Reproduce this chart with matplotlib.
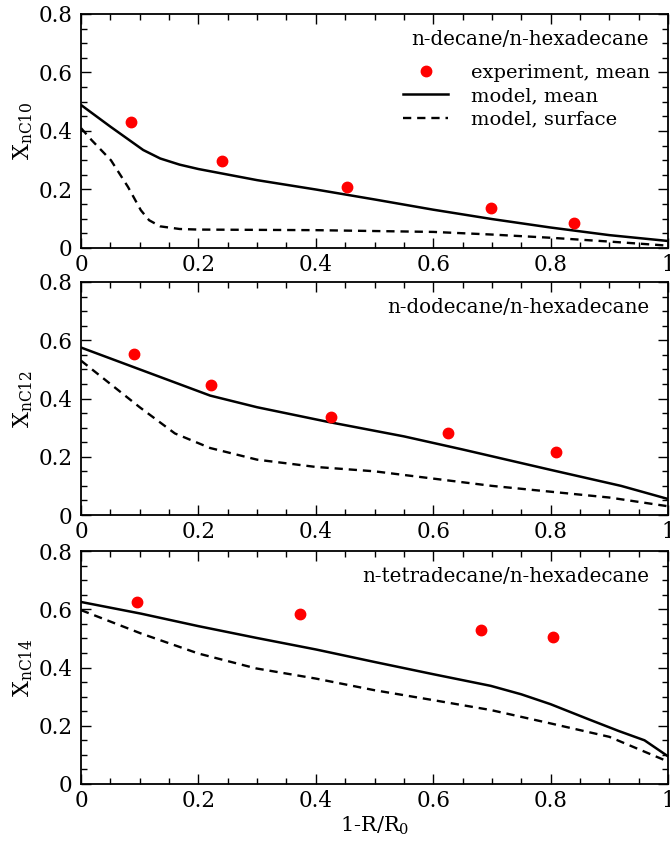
import matplotlib
matplotlib.use('Agg')
import matplotlib.pyplot as plt
from matplotlib.ticker import MultipleLocator, FixedFormatter, FixedLocator
import numpy as np

plt.rcParams['font.family'] = 'DejaVu Serif'
plt.rcParams['mathtext.fontset'] = 'dejavuserif'

# n-decane / n-hexadecane
c10_exp_x = [0.085, 0.240, 0.453, 0.698, 0.840]
c10_exp_y = [0.431, 0.297, 0.209, 0.137, 0.085]
c10_mean_x = [0.0, 0.05, 0.106, 0.135, 0.168, 0.2, 0.3, 0.4, 0.5, 0.6, 0.7, 0.8, 0.9, 1.0]
c10_mean_y = [0.489, 0.415, 0.335, 0.306, 0.285, 0.270, 0.232, 0.200, 0.166, 0.131, 0.099, 0.070, 0.044, 0.024]
c10_surf_x = [0.0, 0.018, 0.051, 0.08, 0.102, 0.116, 0.135, 0.168, 0.2, 0.4, 0.6, 0.7, 0.8, 0.9, 1.0]
c10_surf_y = [0.410, 0.369, 0.300, 0.209, 0.129, 0.095, 0.074, 0.065, 0.063, 0.061, 0.055, 0.046, 0.035, 0.022, 0.008]

# n-dodecane / n-hexadecane
c12_exp_x = [0.090, 0.221, 0.426, 0.625, 0.810]
c12_exp_y = [0.553, 0.445, 0.336, 0.282, 0.215]
c12_mean_x = [0.0, 0.1, 0.16, 0.22, 0.3, 0.42, 0.55, 0.65, 0.8, 0.92, 1.0]
c12_mean_y = [0.575, 0.50, 0.455, 0.41, 0.37, 0.32, 0.27, 0.225, 0.155, 0.10, 0.055]
c12_surf_x = [0.0, 0.05, 0.1, 0.16, 0.22, 0.3, 0.4, 0.5, 0.6, 0.7, 0.8, 0.9, 1.0]
c12_surf_y = [0.53, 0.45, 0.37, 0.28, 0.23, 0.19, 0.165, 0.15, 0.125, 0.10, 0.08, 0.06, 0.03]

# n-tetradecane / n-hexadecane
c14_exp_x = [0.096, 0.373, 0.681, 0.804]
c14_exp_y = [0.624, 0.585, 0.529, 0.505]
c14_mean_x = [0.0, 0.102, 0.2, 0.298, 0.4, 0.5, 0.6, 0.698, 0.75, 0.8, 0.865, 0.916, 0.96, 1.0]
c14_mean_y = [0.625, 0.585, 0.542, 0.502, 0.462, 0.419, 0.377, 0.337, 0.308, 0.274, 0.222, 0.182, 0.150, 0.095]
c14_surf_x = [0.0, 0.102, 0.2, 0.298, 0.4, 0.5, 0.6, 0.698, 0.8, 0.9, 0.96, 1.0]
c14_surf_y = [0.597, 0.517, 0.448, 0.397, 0.362, 0.322, 0.288, 0.254, 0.208, 0.162, 0.111, 0.077]

panels = [
    ('n-decane/n-hexadecane', 'nC10', c10_exp_x, c10_exp_y, c10_mean_x, c10_mean_y, c10_surf_x, c10_surf_y),
    ('n-dodecane/n-hexadecane', 'nC12', c12_exp_x, c12_exp_y, c12_mean_x, c12_mean_y, c12_surf_x, c12_surf_y),
    ('n-tetradecane/n-hexadecane', 'nC14', c14_exp_x, c14_exp_y, c14_mean_x, c14_mean_y, c14_surf_x, c14_surf_y),
]

x_ticks = [0, 0.2, 0.4, 0.6, 0.8, 1.0]
x_ticklabels = ['0', '0.2', '0.4', '0.6', '0.8', '1']
y_ticks = [0, 0.2, 0.4, 0.6, 0.8]
y_ticklabels = ['0', '0.2', '0.4', '0.6', '0.8']

W, H = 670, 844
fig = plt.figure(figsize=(W / 100, H / 100), dpi=100)

# axes boxes in pixels: (top, bottom)
boxes = [(14, 248), (282, 515), (551, 784)]
left, right = 81, 668

for i, (title, sub, ex, ey, mx, my, sx, sy) in enumerate(panels):
    top, bot = boxes[i]
    ax = fig.add_axes([left / W, 1 - bot / H, (right - left) / W, (bot - top) / H])

    ax.plot(mx, my, color='black', lw=1.8, label='model, mean')
    ax.plot(sx, sy, color='black', lw=1.7, dashes=(3.5, 2.5), label='model, surface')
    ax.plot(ex, ey, 'o', color='red', ms=7.5, mec='red', label='experiment, mean', zorder=5)

    ax.set_xlim(0, 1)
    ax.set_ylim(0, 0.8)
    ax.xaxis.set_major_locator(FixedLocator(x_ticks))
    ax.xaxis.set_major_formatter(FixedFormatter(x_ticklabels))
    ax.yaxis.set_major_locator(FixedLocator(y_ticks))
    ax.yaxis.set_major_formatter(FixedFormatter(y_ticklabels))
    ax.xaxis.set_minor_locator(MultipleLocator(0.05))
    ax.yaxis.set_minor_locator(MultipleLocator(0.05))
    ax.tick_params(which='both', direction='in', top=True, right=True, width=1.0, labelsize=15.5)
    ax.tick_params(which='major', length=7)
    ax.tick_params(axis='x', which='major', pad=4)
    ax.tick_params(axis='y', which='major', pad=6)
    ax.tick_params(which='minor', length=4)
    for sp in ax.spines.values():
        sp.set_linewidth(1.3)

    ax.set_ylabel('X$_{\\mathregular{' + sub + '}}$', fontsize=16)
    ax.yaxis.set_label_coords(-0.078, 0.5)

    ax.text(0.968, 0.889, title, transform=ax.transAxes, ha='right', va='center', fontsize=14.3)

    if i == 0:
        h, l = ax.get_legend_handles_labels()
        order = [2, 0, 1]
        ax.legend([h[k] for k in order], [l[k] for k in order], loc='upper left',
                  bbox_to_anchor=(0.549, 0.787), frameon=False, fontsize=14,
                  handlelength=2.3, handletextpad=1.2, labelspacing=0.27,
                  borderpad=0, borderaxespad=0, markerscale=1.0)
    if i == 2:
        ax.set_xlabel('1-R/R$_{\\mathregular{0}}$', fontsize=15, labelpad=2)

fig.savefig('out.png', dpi=100)
